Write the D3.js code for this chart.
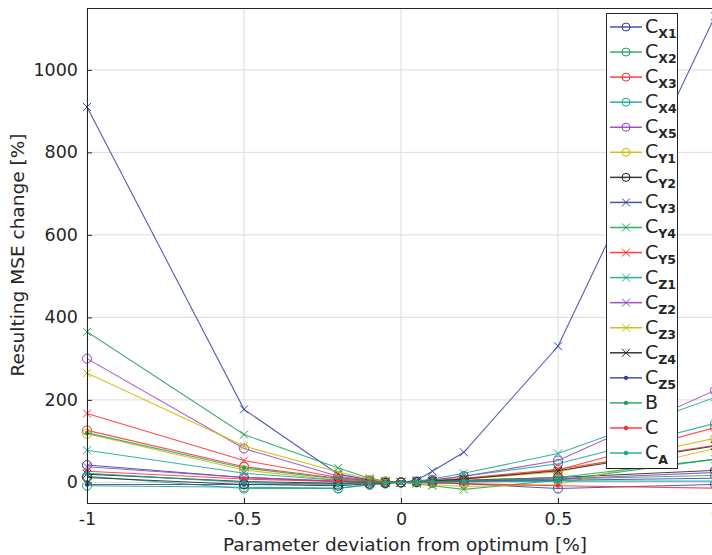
<!DOCTYPE html>
<html>
<head>
<meta charset="utf-8">
<script src="https://cdn.jsdelivr.net/npm/d3@7"></script>
<style>
  body { margin: 0; background: #fff; }
  text { font-family: "DejaVu Sans", sans-serif; fill: #262626; }
</style>
</head>
<body>
<svg id="canvas"></svg>
<script>
// deviation steps on x
let xValues = [-1, -0.5, -0.2, -0.1, -0.05, 0, 0.05, 0.1, 0.2, 0.5, 1];
let xTicks = [-1, -0.5, 0, 0.5, 1];
let yTicks = [0, 200, 400, 600, 800, 1000];

let names = ['X1', 'X2', 'X3', 'X4', 'X5', 'Y1', 'Y2', 'Y3', 'Y4', 'Y5', 'Z1', 'Z2', 'Z3', 'Z4', 'Z5', 'B', 'C', 'A'];

let cX1 = [42, 12, 2, 1, 0, 0, 0, -1, -3, -15, -5];
let cX2 = [-8, -12, -14, -6, -3, 0, 1, 2, 3, 8, 17];
let cX3 = [126, 38, 10, 4, 2, 0, 1, 3, 8, 30, 133];
let cX4 = [15, -15, -15, -5, -2, 0, 2, 5, 15, 45, 143];
let cX5 = [300, 82, 15, 5, 2, 0, 2, 6, 15, 53, 223];
let cY1 = [118, 30, 5, 2, 1, 0, 1, 3, 8, 25, 107];
let cY2 = [12, -5, -8, -3, -1, 0, 1, 2, 5, 12, 29];
let cY3 = [910, 177, 20, 6, 2, 0, 5, 27, 73, 330, 1130];
let cY4 = [365, 116, 35, 10, 3, 0, -3, -8, -17, 5, 56];
let cY5 = [167, 53, 12, 4, 1, 0, 1, 4, 10, 32, 90];
let cZ1 = [78, 22, 5, 2, 1, 0, 3, 8, 22, 70, 206];
let cZ2 = [38, 12, 3, 1, 0, 0, 0, 1, 3, 8, 24];
let cZ3 = [265, 88, 25, 8, 2, 0, -2, -5, -10, -5, 82];
let cZ4 = [20, 2, -2, -1, 0, 0, 1, 3, 8, 28, 88];
let cZ5 = [-5, -5, -3, -1, 0, 0, 0, 1, 2, 5, 10];
let bVals = [120, 35, 8, 3, 1, 0, 1, 2, 4, 12, 56];
let cVals = [27, 8, 2, 1, 0, 0, 0, -1, -3, -8, -14];
let cA = [22, 0, -5, -2, -1, 0, 0, 1, 1, 3, 3];

let seriesValues = [cX1, cX2, cX3, cX4, cX5, cY1, cY2, cY3, cY4, cY5, cZ1, cZ2, cZ3, cZ4, cZ5, bVals, cVals, cA];

let palette = ['#3340a6', '#1fa25c', '#ff2b2b', '#14a697', '#9a3fbd', '#c9b800', '#222222'];
let markerOrder = ['o', 'x', '.'];

let width = 712;
let height = 555;
let padLeft = 87, padRight = 715, padTop = 8, padBottom = 503;

let svg = d3.select('#canvas').attr('width', width).attr('height', height);

let xScale = d3.scaleLinear().domain([-1, 1]).range([padLeft, padRight]);
let yScale = d3.scaleLinear().domain([-50, 1150]).range([padBottom, padTop]);

// grid
svg.append('g').selectAll('line').data(xTicks).enter().append('line')
  .attr('x1', d => xScale(d)).attr('x2', d => xScale(d))
  .attr('y1', padTop).attr('y2', padBottom)
  .attr('stroke', '#dcdcdc').attr('stroke-width', 1);
svg.append('g').selectAll('line').data(yTicks).enter().append('line')
  .attr('x1', padLeft).attr('x2', padRight)
  .attr('y1', d => yScale(d)).attr('y2', d => yScale(d))
  .attr('stroke', '#dcdcdc').attr('stroke-width', 1);

let series = seriesValues.map((vals, i) => ({
  name: names[i],
  color: palette[i % 7],
  marker: markerOrder[Math.floor(i / 7)],
  points: vals.map((v, j) => ({ x: xValues[j], y: v }))
}));

let line = d3.line().x(d => xScale(d.x)).y(d => yScale(d.y));

let drawMarker = (g, m, color, cx, cy, small) => {
  if (m === 'o') {
    g.append('circle').attr('cx', cx).attr('cy', cy).attr('r', small ? 4 : 4.5)
      .attr('fill', 'none').attr('stroke', color).attr('stroke-width', 1);
  } else if (m === 'x') {
    let s = 4;
    g.append('path').attr('d', `M${cx - s},${cy - s}L${cx + s},${cy + s}M${cx - s},${cy + s}L${cx + s},${cy - s}`)
      .attr('stroke', color).attr('stroke-width', 1);
  } else {
    g.append('circle').attr('cx', cx).attr('cy', cy).attr('r', 2.2).attr('fill', color);
  }
};

let plot = svg.append('g');
series.forEach(s => {
  let g = plot.append('g');
  g.append('path').datum(s.points).attr('d', line)
    .attr('fill', 'none').attr('stroke', s.color).attr('stroke-width', 1.1).attr('stroke-opacity', 0.85);
  s.points.forEach(p => drawMarker(g, s.marker, s.color, xScale(p.x), yScale(p.y)));
});

// axes
let xAxis = d3.axisBottom(xScale).tickValues(xTicks).tickSize(-5).tickPadding(10)
  .tickFormat(d => d === 0 ? '0' : String(d));
let yAxis = d3.axisLeft(yScale).tickValues(yTicks).tickSize(-5).tickPadding(9)
  .tickFormat(d3.format('d'));

let gx = svg.append('g').attr('transform', 'translate(0,' + padBottom + ')').call(xAxis);
let gy = svg.append('g').attr('transform', 'translate(' + padLeft + ',0)').call(yAxis);
[gx, gy].forEach(g => {
  g.select('.domain').attr('stroke', '#262626');
  g.selectAll('.tick line').attr('stroke', '#262626');
  g.selectAll('.tick text').style('font-size', '17.5px').style('font-family', '"DejaVu Sans", sans-serif').attr('fill', '#262626');
});
// top border
svg.append('line').attr('x1', padLeft).attr('x2', padRight).attr('y1', padTop + 0.5).attr('y2', padTop + 0.5)
  .attr('stroke', '#262626');

svg.append('text').attr('x', 405).attr('y', 551).attr('text-anchor', 'middle')
  .style('font-size', '18.5px').text('Parameter deviation from optimum [%]');
svg.append('text').attr('transform', 'translate(24,255) rotate(-90)')
  .attr('text-anchor', 'middle').style('font-size', '18.5px').text('Resulting MSE change [%]');

// legend
let legend = svg.append('g');
legend.append('rect').attr('x', 606.5).attr('y', 13.5).attr('width', 71).attr('height', 455)
  .attr('fill', '#fff').attr('stroke', '#262626').attr('stroke-width', 1);
series.forEach((s, i) => {
  let ly = 27 + i * 25.06;
  let g = legend.append('g');
  g.append('line').attr('x1', 610).attr('x2', 642).attr('y1', ly).attr('y2', ly)
    .attr('stroke', s.color).attr('stroke-width', 1.5).attr('stroke-opacity', 0.9);
  drawMarker(g, s.marker, s.color, 626, ly, true);
  let t = g.append('text').attr('x', 645).attr('y', ly + 6).style('font-size', '19px');
  if (s.name === 'B' || s.name === 'C') {
    t.text(s.name);
  } else {
    t.append('tspan').text('C');
    t.append('tspan').attr('dy', 5).style('font-size', '12.5px').style('font-weight', 'bold').text(s.name);
  }
});
</script>
</body>
</html>
